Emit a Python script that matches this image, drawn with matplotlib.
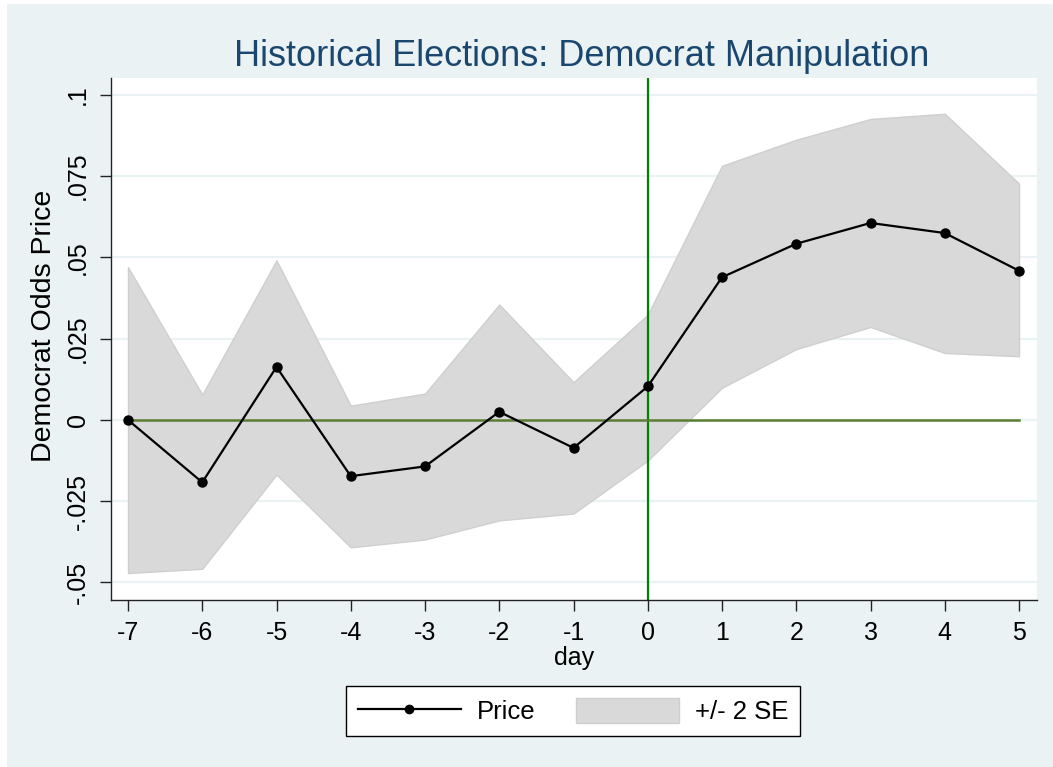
import matplotlib
matplotlib.use("Agg")
import matplotlib.pyplot as plt
from matplotlib.patches import Rectangle
from matplotlib.lines import Line2D
from matplotlib.patches import Patch

days = [-7, -6, -5, -4, -3, -2, -1, 0, 1, 2, 3, 4, 5]
price = [0.0, -0.0192, 0.0163, -0.0173, -0.0143, 0.0025, -0.0086, 0.0103,
         0.0439, 0.0542, 0.0606, 0.0575, 0.0459]
upper = [0.0470, 0.0078, 0.0491, 0.0044, 0.0081, 0.0355, 0.0116, 0.0324,
         0.0782, 0.0862, 0.0926, 0.0942, 0.0727]
lower = [-0.0471, -0.0458, -0.0168, -0.0392, -0.0368, -0.0309, -0.0288, -0.0125,
         0.0099, 0.0218, 0.0286, 0.0206, 0.0196]
yticks = [-0.05, -0.025, 0, 0.025, 0.05, 0.075, 0.1]
yticklabels = ["-.05", "-.025", "0", ".025", ".05", ".075", ".1"]

plt.rcParams['font.family'] = ['Liberation Sans', 'DejaVu Sans']

W, H = 1053, 767
fig = plt.figure(figsize=(W / 100, H / 100), dpi=100)
fig.patch.set_facecolor('white')
bg = '#EAF2F3'
fig.patches.append(Rectangle((7 / W, 0), 1 - 7 / W, 1 - 4 / H, transform=fig.transFigure,
                             facecolor=bg, edgecolor='none', zorder=-10))

ax = fig.add_axes([111 / W, 1 - 600 / H, (1037 - 111) / W, (600 - 78) / H])
ax.set_facecolor('white')

ax.set_xlim(-7.229, 5.242)
ax.set_ylim(-0.0554, 0.1052)

for yv in yticks:
    ax.axhline(yv, color=bg, lw=1.6, zorder=0)

ax.fill_between(days, lower, upper, facecolor='#D9D9D9', edgecolor='#CFCFCF', lw=1.0, zorder=1)
ax.axvline(0, color='#008000', lw=1.6, zorder=2)
ax.plot([days[0], days[-1]], [0, 0], color='#5A7D32', lw=1.8, zorder=3)
ax.plot(days, price, color='black', lw=1.6, marker='o', ms=6.5, zorder=4)

for s in ['top', 'right']:
    ax.spines[s].set_visible(False)
for s in ['left', 'bottom']:
    ax.spines[s].set_color('#222222')
    ax.spines[s].set_linewidth(1.0)

ax.set_xticks(days)
ax.set_xticklabels([str(d) for d in days])
ax.set_yticks(yticks)
ax.set_yticklabels(yticklabels, rotation=90, va='center')
ax.tick_params(axis='both', length=8, width=1, color='#222222', labelsize=18, pad=7)

ax.set_xlabel('day', fontsize=18, labelpad=1)
ax.set_ylabel('Democrat Odds Price', fontsize=20.5, labelpad=2)
ax.yaxis.set_label_coords(-0.058, 0.525)

fig.text(582 / W, 1 - 66 / H, 'Historical Elections: Democrat Manipulation',
         ha='center', va='baseline', fontsize=26, color='#1A476F')

handles = [Line2D([], [], color='black', lw=1.6, marker='o', ms=6),
           Patch(facecolor='#D9D9D9', edgecolor='#CFCFCF', lw=1.0)]
leg = fig.legend(handles, ['Price', '+/- 2 SE'], loc='center', ncol=2,
                 bbox_to_anchor=(573 / W, 56 / H), fontsize=18.5,
                 frameon=True, fancybox=False, handlelength=4.0, handleheight=1.13,
                 handletextpad=0.62, columnspacing=1.6, borderpad=0.45, borderaxespad=0)
leg.get_frame().set_edgecolor('black')
leg.get_frame().set_linewidth(1.0)
leg.get_frame().set_facecolor('white')
leg.get_frame().set_alpha(1)

fig.savefig('out.png', dpi=100, facecolor=fig.get_facecolor())
